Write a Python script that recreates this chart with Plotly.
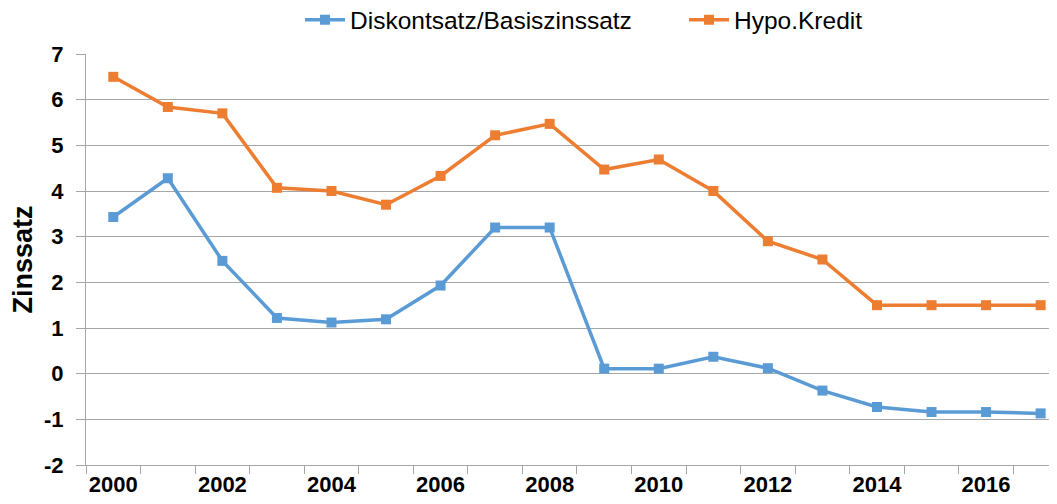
import plotly.graph_objects as go

years = list(range(2000, 2018))
diskont = [3.43, 4.28, 2.47, 1.22, 1.12, 1.19, 1.93, 3.20, 3.20, 0.11, 0.11, 0.37, 0.12, -0.37, -0.73, -0.84, -0.84, -0.87]
hypo = [6.50, 5.84, 5.70, 4.07, 4.00, 3.70, 4.33, 5.22, 5.47, 4.47, 4.69, 4.00, 2.90, 2.50, 1.50, 1.50, 1.50, 1.50]
x_tick_vals = list(range(2000, 2017, 2))
x_tick_labels = [str(y) for y in x_tick_vals]
y_ticks = list(range(-2, 8))
y_tick_labels = [str(v) for v in y_ticks]  # plain hyphen minus, as in the reference

BLUE = "#5B9BD5"
ORANGE = "#ED7D31"
GRID = "#A6A6A6"
FONT = "Liberation Sans, Arial, sans-serif"

fig = go.Figure()
fig.add_trace(go.Scatter(x=years, y=diskont, mode="lines+markers", name="Diskontsatz/Basiszinssatz",
                         line=dict(color=BLUE, width=3.5),
                         marker=dict(symbol="square", size=10, color=BLUE)))
fig.add_trace(go.Scatter(x=years, y=hypo, mode="lines+markers", name="Hypo.Kredit",
                         line=dict(color=ORANGE, width=3.5),
                         marker=dict(symbol="square", size=10, color=ORANGE)))

# the page body adds an 8px offset, so the figure is sized to fit the window
fig.update_layout(
    width=1049, height=496,
    margin=dict(l=78, r=0, t=46, b=39, autoexpand=False),
    paper_bgcolor="white", plot_bgcolor="white",
    font=dict(family=FONT, color="black"),
    legend=dict(orientation="h", x=0.2204, xanchor="left", yref="container", y=0.976, yanchor="middle",
                font=dict(size=24.5, family=FONT), itemwidth=40,
                entrywidth=329, entrywidthmode="pixels",
                bgcolor="rgba(0,0,0,0)", traceorder="normal"),
    showlegend=True,
)
fig.update_xaxes(
    range=[1999.5, 2017.3], automargin=False,
    tickmode="array", tickvals=x_tick_vals, ticktext=x_tick_labels,
    ticks="", showgrid=False, zeroline=False,
    showline=True, linecolor=GRID, linewidth=1,
    tickfont=dict(size=22, family=FONT, color="black", weight="bold"),
    minor=dict(tickmode="linear", tick0=1999.5, dtick=1, ticks="outside", ticklen=8,
               tickcolor=GRID, tickwidth=1, showgrid=False),
)
fig.update_yaxes(
    range=[-2, 7], automargin=False, tickmode="array", tickvals=y_ticks, ticktext=y_tick_labels,
    ticks="outside", ticklen=9, tickcolor=GRID, tickwidth=1,
    showgrid=True, gridcolor=GRID, gridwidth=1, zeroline=False,
    showline=True, linecolor=GRID, linewidth=1,
    tickfont=dict(size=22, family=FONT, color="black", weight="bold"),
    ticklabelstandoff=8,
    title=dict(text="Zinssatz", font=dict(size=27, family=FONT, color="black", weight="bold"), standoff=8),
)

fig.write_html("out.html")
